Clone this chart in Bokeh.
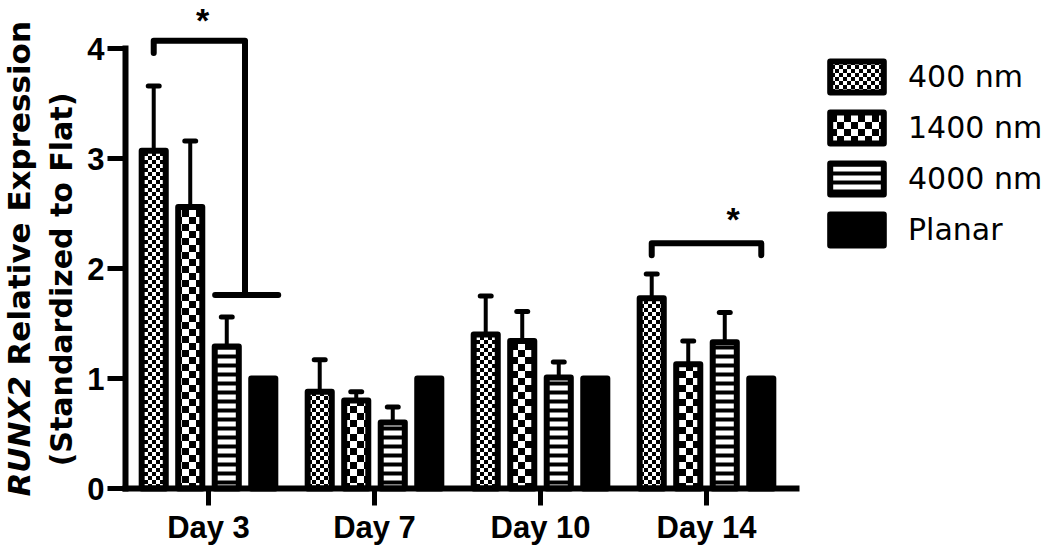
import base64
import struct
import zlib
import numpy as np
from bokeh.plotting import figure
from bokeh.models import (ColumnDataSource, Range1d, FixedTicker, Label, Legend,
                          LegendItem, ImageURLTexture)
from bokeh.core.properties import value
from bokeh.embed import file_html
from bokeh.resources import INLINE

# ---------------- data ----------------
days = ["Day 3", "Day 7", "Day 10", "Day 14"]
series = ["400 nm", "1400 nm", "4000 nm", "Planar"]
mean_400 = [3.07, 0.88, 1.40, 1.73]
sem_400 = [0.59, 0.29, 0.35, 0.22]
mean_1400 = [2.56, 0.80, 1.34, 1.13]
sem_1400 = [0.60, 0.08, 0.27, 0.21]
mean_4000 = [1.29, 0.60, 1.01, 1.33]
sem_4000 = [0.27, 0.14, 0.14, 0.27]
mean_planar = [1.0, 1.0, 1.0, 1.0]
y_ticks = [0, 1, 2, 3, 4]
# significance brackets
sig3_level, sig3_low = 4.07, 1.76      # Day 3: 400 nm vs (4000 nm, Planar)
sig14_level, sig14_low = 2.23, 2.12    # Day 14: 400 nm vs Planar


def checker_png(cell):
    n = 2 * cell
    raw = b""
    for r in range(n):
        raw += b"\x00" + bytes(0 if ((r // cell + c // cell) % 2 == 0) else 255 for c in range(n))

    def chunk(t, d):
        return struct.pack(">I", len(d)) + t + d + struct.pack(">I", zlib.crc32(t + d) & 0xffffffff)

    png = (b"\x89PNG\r\n\x1a\n" + chunk(b"IHDR", struct.pack(">IIBBBBB", n, n, 8, 0, 0, 0, 0))
           + chunk(b"IDAT", zlib.compress(raw)) + chunk(b"IEND", b""))
    return "data:image/png;base64," + base64.b64encode(png).decode()


W, H = 1050, 547
UNIT_Y = 110.0          # px per unit of expression
UNIT_X = 166.0          # px per day group
X0_PX, Y0_PX = 208.0, 488.0   # pixel position of (group 1, value 0)

x_start = 1 - X0_PX / UNIT_X
y_start = -(H - Y0_PX) / UNIT_Y


def px_to_x(px):
    return x_start + px / UNIT_X


def py_to_y(py):
    return (Y0_PX - py) / UNIT_Y


p = figure(width=W, height=H, output_backend="svg", toolbar_location=None,
           x_range=Range1d(x_start, x_start + W / UNIT_X),
           y_range=Range1d(y_start, y_start + H / UNIT_Y),
           min_border_left=0, min_border_right=0, min_border_top=0, min_border_bottom=0)
p.outline_line_color = None
p.grid.visible = False
p.background_fill_color = "white"

group = np.arange(1, len(days) + 1, dtype=float)
offsets = [-0.33, -0.11, 0.11, 0.33]
means = [mean_400, mean_1400, mean_4000, mean_planar]
sems = [sem_400, sem_1400, sem_4000, None]
bw = 0.145

styles = [
    dict(fill_color="white", hatch_pattern=value("fine"), hatch_color="black",
         hatch_extra={"fine": ImageURLTexture(url=checker_png(4))}),
    dict(fill_color="white", hatch_pattern=value("coarse"), hatch_color="black",
         hatch_extra={"coarse": ImageURLTexture(url=checker_png(7))}),
    dict(fill_color="white", hatch_pattern="horizontal_line", hatch_color="black", hatch_scale=9,
         hatch_weight=4),
    dict(fill_color="black"),
]

renderers = []
for i in range(4):
    xs = group + offsets[i]
    m = np.array(means[i])
    src = ColumnDataSource(dict(x=xs, top=m))
    if sems[i] is not None:
        s = np.array(sems[i])
        p.segment(x0=xs, y0=m, x1=xs, y1=m + s, line_color="black", line_width=4)
        p.segment(x0=xs - 0.033, y0=m + s, x1=xs + 0.033, y1=m + s, line_color="black",
                  line_width=5, line_cap="round")
    r = p.vbar(x="x", top="top", bottom=0, width=bw, source=src, line_color="black",
               line_width=6, line_join="round", **styles[i])
    renderers.append(r)

# significance brackets
x400_d3 = group[0] + offsets[0]
xpair_d3 = group[0] + (offsets[2] + offsets[3]) / 2
p.multi_line(xs=[[x400_d3, x400_d3, xpair_d3, xpair_d3],
                 [group[0] + offsets[2] - 0.07, group[0] + offsets[3] + 0.09]],
             ys=[[sig3_level - 0.11, sig3_level, sig3_level, sig3_low],
                 [sig3_low, sig3_low]],
             line_color="black", line_width=6, line_cap="round", line_join="round")
x400_d14 = group[3] + offsets[0]
xpl_d14 = group[3] + offsets[3]
p.multi_line(xs=[[x400_d14, x400_d14, xpl_d14, xpl_d14]],
             ys=[[sig14_low, sig14_level, sig14_level, sig14_low]],
             line_color="black", line_width=6, line_cap="round", line_join="round")
for sx, sy in [((x400_d3 + xpair_d3) / 2 + 0.02, sig3_level + 0.185),
               (group[3] + 0.16, sig14_level + 0.22)]:
    p.add_layout(Label(x=sx, y=sy, text="*", text_align="center", text_baseline="middle",
                       text_font="Liberation Sans", text_font_style="bold", text_font_size="34px",
                       text_color="black"))

# axes, pinned at data locations inside the frame
xa = p.xaxis[0]
ya = p.yaxis[0]
xa.fixed_location = 0
ya.fixed_location = 0.5
xa.ticker = FixedTicker(ticks=list(group))
xa.major_label_overrides = {int(g): d for g, d in zip(group, days)}
xa.bounds = (0.5, 4.54)
ya.ticker = FixedTicker(ticks=y_ticks)
ya.bounds = (0, 4)
for ax in (xa, ya):
    ax.axis_line_width = 6
    ax.axis_line_cap = "square"
    ax.major_tick_line_width = 5
    ax.major_tick_in = 0
    ax.minor_tick_line_color = None
    ax.major_label_text_font = "Liberation Sans"
    ax.major_label_text_font_style = "bold"
    ax.major_label_text_color = "black"
xa.major_label_text_font_size = "31px"
ya.major_label_text_font_size = "31px"
xa.major_tick_out = 17
xa.major_label_standoff = 4
ya.major_tick_out = 18
ya.major_label_standoff = 3

# y-axis title (two lines, RUNX2 in italics); anchors are at the cap-height centre
ang = np.pi / 2
common = dict(angle=ang, text_font="DejaVu Sans", text_baseline="middle", text_color="black")
p.add_layout(Label(x=px_to_x(18), y=py_to_y(496), text="RUNX2", text_font_style="bold italic",
                   text_font_size="31px", text_align="left", **common))
p.add_layout(Label(x=px_to_x(18), y=py_to_y(496 - 120 - 11), text="Relative Expression",
                   text_font_style="bold", text_font_size="31px", text_align="left", **common))
p.add_layout(Label(x=px_to_x(61), y=py_to_y(279), text="(Standardized to Flat)",
                   text_font_style="bold", text_font_size="30px", text_align="center", **common))

legend = Legend(items=[LegendItem(label=s, renderers=[r]) for s, r in zip(series, renderers)],
                location=(823, H - 249), glyph_width=67, glyph_height=39, label_height=39,
                label_standoff=18, spacing=12, padding=0, margin=0,
                border_line_color=None, background_fill_alpha=0,
                label_text_font="DejaVu Sans", label_text_font_size="30px",
                label_text_color="black")
p.add_layout(legend)

open("out.html", "w").write(file_html(p, INLINE))
